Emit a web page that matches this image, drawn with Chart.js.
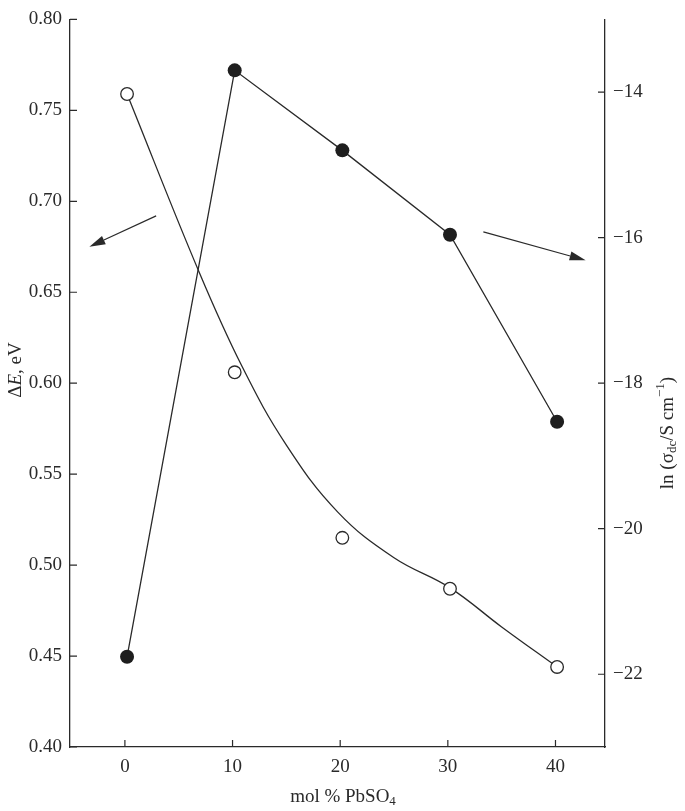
<!DOCTYPE html>
<html>
<head>
<meta charset="utf-8">
<script src="https://cdn.jsdelivr.net/npm/chart.js@4"></script>
<style>
  html, body { margin: 0; padding: 0; background: #fff; }
  canvas { display: block; }
</style>
</head>
<body>
<canvas id="chart" width="685" height="811"></canvas>
<script>
// --- Data ---
const molPct = [0.2, 10.2, 20.2, 30.2, 40.15];
const deltaE = [0.759, 0.606, 0.515, 0.487, 0.444];      // open circles, left axis
const lnSigma = [-21.76, -13.70, -14.80, -15.96, -18.53]; // filled circles, right axis

// smooth guide curve through the open circles
const fitMol = [0.2, 6.9, 10.9, 15.0, 19.8, 25.0, 30.2, 35.0, 40.15];
const fitE = [0.759, 0.661, 0.609, 0.566, 0.529, 0.504, 0.4875, 0.466, 0.444];

const xTicks = [0, 10, 20, 30, 40];
const leftTicks = [0.40, 0.45, 0.50, 0.55, 0.60, 0.65, 0.70, 0.75, 0.80];
const rightTicks = [-22, -20, -18, -16, -14];

// arrows pointing to the axis each series belongs to
const arrowLeft = { axis: 'y', from: [2.9, 0.692], to: [-3.3, 0.675] };
const arrowRight = { axis: 'y1', from: [33.3, -15.92], to: [42.8, -16.31] };

const ink = '#2a2a2a';
const serif = "'Liberation Serif', 'DejaVu Serif', serif";

const toXY = (xs, ys) => xs.map((x, i) => ({ x: x, y: ys[i] }));

// draws a run of text pieces (italic / sub / sup) centred at x,y
function drawRich(ctx, parts, x, y, angle) {
    const base = 19, small = 13;
    const fontOf = p => (p.it ? 'italic ' : '') + (p.sub || p.sup ? small : base) + 'px ' + serif;
    let total = 0;
    parts.forEach(p => { ctx.font = fontOf(p); p.w = ctx.measureText(p.t).width; total += p.w; });
    ctx.save();
    ctx.translate(x, y);
    ctx.rotate(angle);
    ctx.fillStyle = ink;
    ctx.textBaseline = 'middle';
    ctx.textAlign = 'left';
    let cx = -total / 2;
    parts.forEach(p => {
        ctx.font = fontOf(p);
        const dy = p.sub ? 5 : (p.sup ? -7 : 0);
        ctx.fillText(p.t, cx, dy);
        cx += p.w;
    });
    ctx.restore();
}

const decorPlugin = {
    id: 'decor',
    afterDraw(chart) {
        const ctx = chart.ctx;
        const { left, right, bottom } = chart.chartArea;
        const sx = chart.scales.x, sy = chart.scales.y, sy1 = chart.scales.y1;
        const tick = 7;

        ctx.save();
        ctx.strokeStyle = ink;
        ctx.lineWidth = 1.2;
        ctx.beginPath();
        xTicks.forEach(v => { const px = sx.getPixelForValue(v); ctx.moveTo(px, bottom); ctx.lineTo(px, bottom - tick); });
        leftTicks.forEach(v => { const py = sy.getPixelForValue(v); ctx.moveTo(left, py); ctx.lineTo(left + tick, py); });
        rightTicks.forEach(v => { const py = sy1.getPixelForValue(v); ctx.moveTo(right, py); ctx.lineTo(right - tick, py); });
        ctx.stroke();

        // arrows
        [arrowLeft, arrowRight].forEach(a => {
            const ys = chart.scales[a.axis];
            const x0 = sx.getPixelForValue(a.from[0]), y0 = ys.getPixelForValue(a.from[1]);
            const x1 = sx.getPixelForValue(a.to[0]), y1 = ys.getPixelForValue(a.to[1]);
            const ang = Math.atan2(y1 - y0, x1 - x0);
            const hl = 16, hw = 4.5;
            const bx = x1 - hl * Math.cos(ang), by = y1 - hl * Math.sin(ang);
            ctx.beginPath();
            ctx.moveTo(x0, y0);
            ctx.lineTo(bx, by);
            ctx.stroke();
            ctx.beginPath();
            ctx.moveTo(x1, y1);
            ctx.lineTo(bx + hw * Math.sin(ang), by - hw * Math.cos(ang));
            ctx.lineTo(bx - hw * Math.sin(ang), by + hw * Math.cos(ang));
            ctx.closePath();
            ctx.fillStyle = ink;
            ctx.fill();
        });
        ctx.restore();

        // axis titles
        drawRich(ctx, [{ t: 'Δ' }, { t: 'E', it: true }, { t: ', eV' }], 16, 370, -Math.PI / 2);
        drawRich(ctx, [{ t: 'ln (σ' }, { t: 'dc', sub: true }, { t: '/S cm' }, { t: '−1', sup: true }, { t: ')' }],
            668, 433, -Math.PI / 2);
        drawRich(ctx, [{ t: 'mol % PbSO' }, { t: '4', sub: true }], 343, 797, 0);
    }
};

const tickFont = { family: serif, size: 19 };

new Chart(document.getElementById('chart'), {
    type: 'scatter',
    data: {
        datasets: [
            {
                label: 'ΔE',
                data: toXY(molPct, deltaE),
                yAxisID: 'y',
                showLine: false,
                pointRadius: 6.3,
                pointBackgroundColor: '#fff',
                pointBorderColor: ink,
                pointBorderWidth: 1.3
            },
            {
                label: 'ln σdc',
                data: toXY(molPct, lnSigma),
                yAxisID: 'y1',
                showLine: true,
                borderColor: ink,
                borderWidth: 1.3,
                pointRadius: 7,
                pointBackgroundColor: '#1e1e1e',
                pointBorderColor: '#1e1e1e',
                pointBorderWidth: 0
            },
            {
                label: 'fit',
                data: toXY(fitMol, fitE),
                yAxisID: 'y',
                showLine: true,
                tension: 0.4,
                borderColor: ink,
                borderWidth: 1.3,
                pointRadius: 0
            }
        ]
    },
    options: {
        responsive: false,
        animation: false,
        layout: { padding: { top: 11, left: 0, right: 0, bottom: 0 } },
        plugins: { legend: { display: false }, tooltip: { enabled: false } },
        scales: {
            x: {
                type: 'linear',
                min: -5.1,
                max: 44.6,
                afterBuildTicks: s => { s.ticks = xTicks.map(v => ({ value: v })); },
                afterFit: s => { s.height = 64; },
                grid: { display: false, drawTicks: false },
                border: { display: true, color: ink, width: 1.3 },
                ticks: { font: tickFont, color: ink, padding: 9 }
            },
            y: {
                position: 'left',
                min: 0.40,
                max: 0.80,
                afterBuildTicks: s => { s.ticks = leftTicks.map(v => ({ value: v })); },
                afterFit: s => { s.width = 70; },
                grid: { display: false, drawTicks: false },
                border: { display: true, color: ink, width: 1.3 },
                ticks: { font: tickFont, color: ink, padding: 8, callback: v => v.toFixed(2) }
            },
            y1: {
                position: 'right',
                min: -23,
                max: -13,
                afterBuildTicks: s => { s.ticks = rightTicks.map(v => ({ value: v })); },
                afterFit: s => { s.width = 80; },
                grid: { display: false, drawTicks: false },
                border: { display: true, color: ink, width: 1.3 },
                ticks: { font: tickFont, color: ink, padding: 8, callback: v => '\u2212' + Math.abs(v) }
            }
        }
    },
    plugins: [decorPlugin]
});
</script>
</body>
</html>
